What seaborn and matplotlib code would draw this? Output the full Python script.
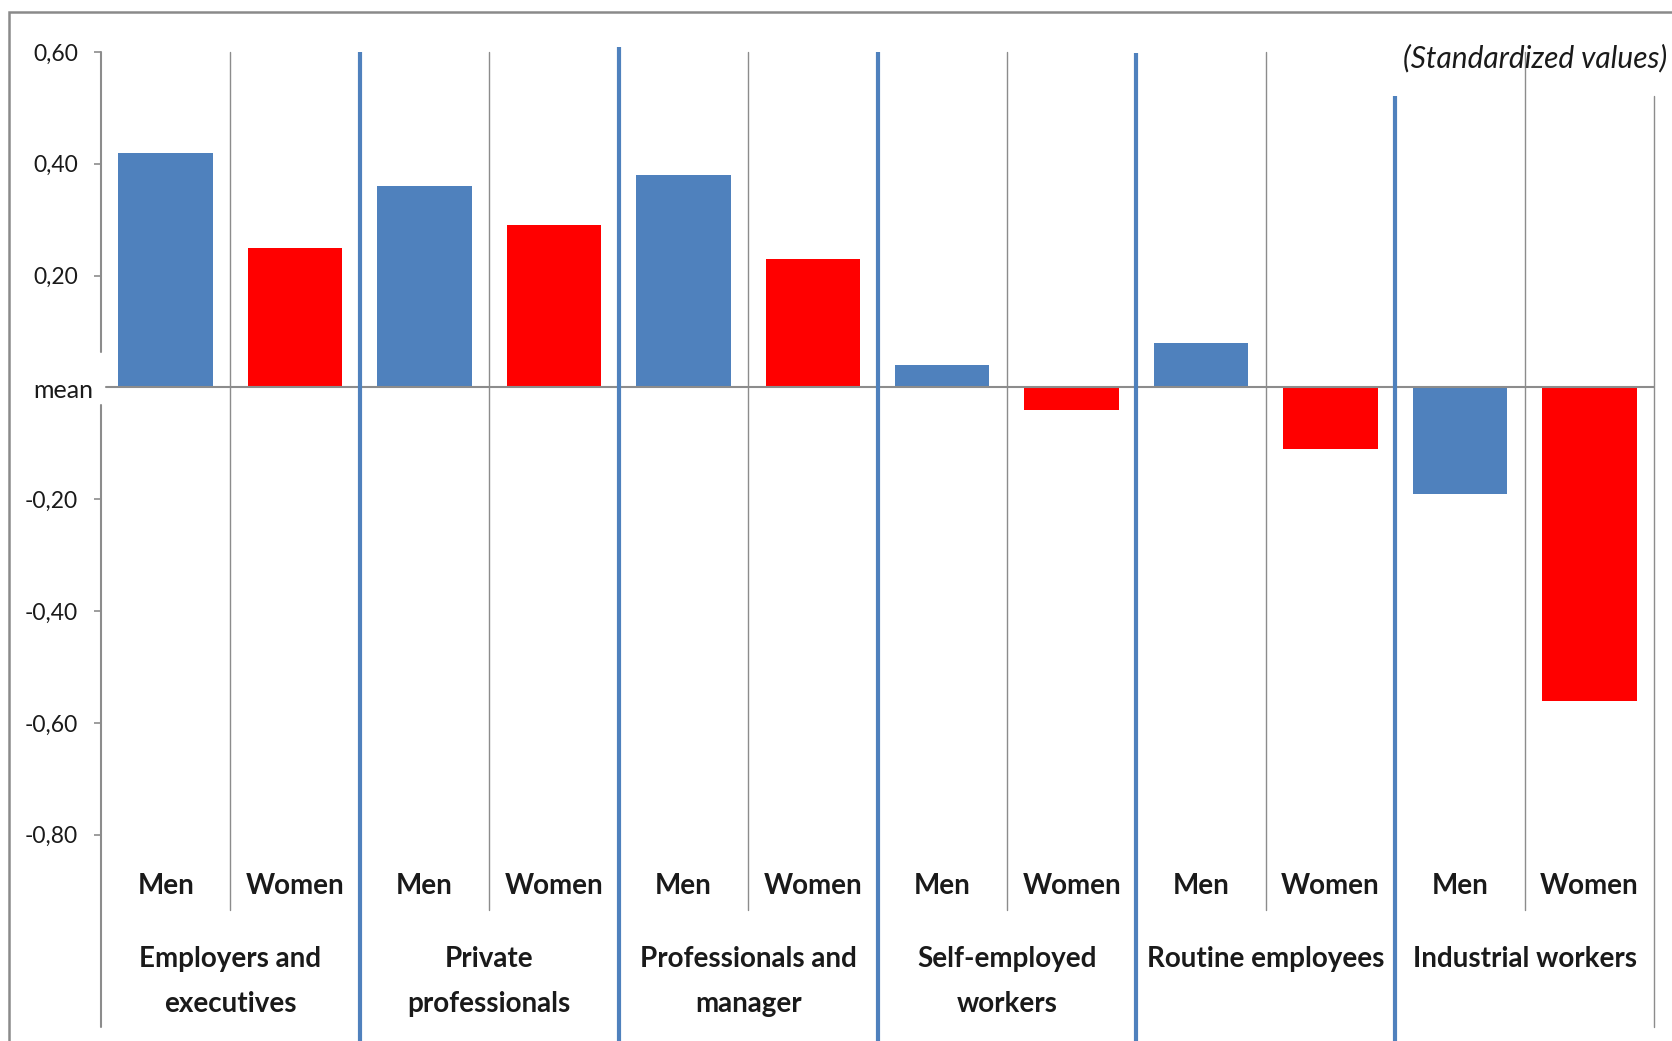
import numpy as np
import pandas as pd
import matplotlib
matplotlib.use("Agg")
import matplotlib.pyplot as plt
from matplotlib.patches import Rectangle
import seaborn as sns

# Occupational groups (two-line names split on "\n")
groups = [
    "Employers and\nexecutives",
    "Private\nprofessionals",
    "Professionals and\nmanager",
    "Self-employed\nworkers",
    "Routine employees",
    "Industrial workers",
]
sexes = ["Men", "Women"]
men_values = [0.42, 0.36, 0.38, 0.04, 0.08, -0.19]
women_values = [0.25, 0.29, 0.23, -0.04, -0.11, -0.56]

y_ticks = [0.6, 0.4, 0.2, -0.2, -0.4, -0.6, -0.8]
y_tick_labels = ["0,60", "0,40", "0,20", "-0,20", "-0,40", "-0,60", "-0,80"]
zero_label = "mean"
note = "(Standardized values)"

rows = []
for g, m, w in zip(groups, men_values, women_values):
    name = g.replace("\n", " ")
    rows.append({"slot": f"{name} | Men", "sex": "Men", "value": m})
    rows.append({"slot": f"{name} | Women", "sex": "Women", "value": w})
df = pd.DataFrame(rows)

sns.set_style("white")
plt.rcParams["font.family"] = ["Lato", "DejaVu Sans"]

W, H = 1672, 1041
fig = plt.figure(figsize=(W / 100, H / 100), dpi=100)


def fx(px):
    return px / W


def fy(py):
    return 1 - py / H


BLUE = "#4F81BD"
RED = "#FF0000"
GRAY = "#8C8C8C"
TXT = "#1a1a1a"

ax = fig.add_axes([fx(101), fy(1027), fx(1654) - fx(101), (1027 - 52) / H])
sns.barplot(
    data=df, x="slot", y="value", hue="sex", order=list(df["slot"]),
    palette={"Men": BLUE, "Women": RED}, dodge=False, width=0.73,
    saturation=1, legend=False, linewidth=0, ax=ax,
)

ax.set_xlim(-0.5, 11.5)
ax.set_ylim(-1.144, 0.6)
ax.set_xlabel("")
ax.set_ylabel("")
ax.set_xticks([])
for s in ax.spines.values():
    s.set_visible(False)

# y axis drawn in two pieces, leaving room for the "mean" label
ax.plot([-0.5, -0.5], [0.6, 0.063], color=GRAY, lw=1.5, clip_on=False)
ax.plot([-0.5, -0.5], [-0.032, -1.144], color=GRAY, lw=1.5, clip_on=False)

ax.set_yticks(y_ticks, y_tick_labels)
ax.tick_params(axis="y", left=True, direction="out", length=5, width=1.2,
               color=GRAY, pad=11.5, labelsize=16.5, labelcolor=TXT)
ax.annotate(zero_label, xy=(0, 0), xycoords=("axes fraction", "data"),
            xytext=(-5.8, -2), textcoords="offset points",
            ha="right", va="center", fontsize=18, color=TXT)

# horizontal line at the mean
ax.axhline(0, xmin=5 / 1553, color=GRAY, lw=1.5, zorder=3)

# thin dividers between Men and Women
for i in range(len(groups)):
    x = 2 * i + 0.5
    ax.plot([x, x], [0.6, -0.935], color=GRAY, lw=1.0, clip_on=False, zorder=1)
ax.plot([11.5, 11.5], [0.521, -1.144], color=GRAY, lw=1.0, clip_on=False)

# heavy blue dividers between occupational groups
blue_tops = [0.6, 0.609, 0.6, 0.598, 0.521]
for k, top in enumerate(blue_tops):
    x = 2 * k + 1.5
    ax.plot([x, x], [top, -1.3], color=BLUE, lw=3.0, clip_on=False,
            solid_capstyle="butt", zorder=4)

# category labels
for k in range(len(groups)):
    for j, sx in enumerate(sexes):
        ax.text(2 * k + j, -0.892, sx, ha="center", va="center",
                fontsize=20, fontweight="bold", color=TXT)
line_y = [-1.022, -1.102]
for k, g in enumerate(groups):
    for j, line in enumerate(g.split("\n")):
        ax.text(2 * k + 0.5, line_y[j], line, ha="center", va="center",
                fontsize=20, fontweight="bold", color=TXT)

# outer frame
fig.add_artist(Rectangle((fx(9), fy(1200)), fx(1900) - fx(9), (1200 - 12) / H,
                         transform=fig.transFigure, fill=False,
                         edgecolor="#8a8a8a", lw=1.8))

fig.text(fx(1667), fy(58), note, ha="right", va="center", style="italic",
         fontsize=21.5, color=TXT)

fig.savefig("out.png", dpi=100)
